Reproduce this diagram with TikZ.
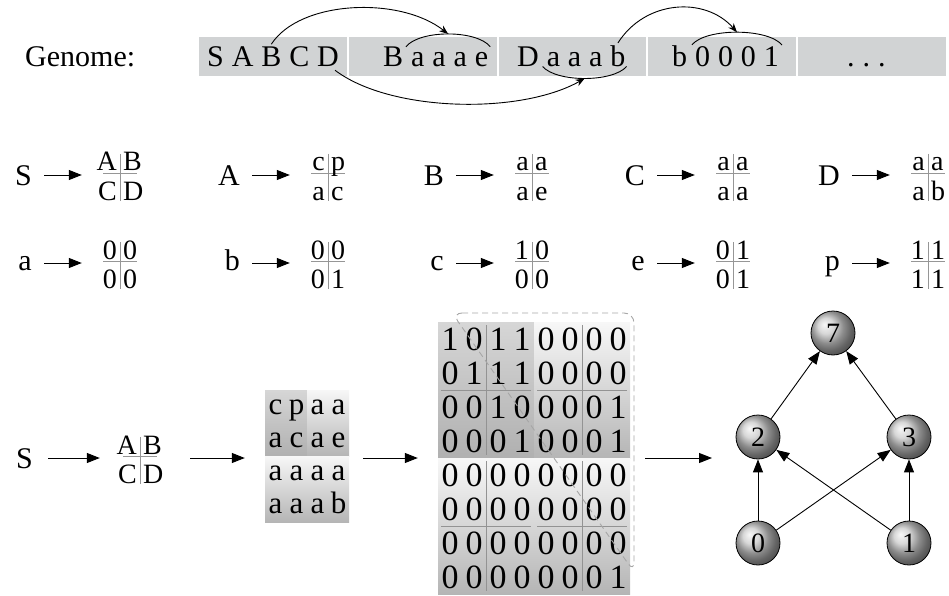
\documentclass[tikz,border=0pt]{standalone}
\usepackage{fontspec}
\setmainfont{Liberation Serif}
\usetikzlibrary{arrows.meta}

\definecolor{bargray}{RGB}{209,211,212}
\definecolor{rulegray}{RGB}{150,150,150}

% one genome segment: characters set one by one, separated by a word space
\newcommand{\gword}[3]{%
  \foreach \ch [count=\i] in {#3} {%
    \ifnum\i=1
      \node[gch, anchor=base west] (#1-1) at (#2,67) {\ch};
    \else
      \pgfmathtruncatemacro\prv{\i-1}%
      \node[gch, anchor=base west] (#1-\i) at ([xshift=7.5pt]#1-\prv.base east) {\ch};
    \fi}}

% 2x2 block with its cross of rules: name, centre x, arrow y, TL, TR, BL, BR
\newcommand{\qgrid}[7]{%
  \node[qbox] (#1) at (#2,#3) {};
  \begin{scope}[shift={(#2,{#3-2})}]
    \draw[qline] (-17,0) -- (17,0);
    \draw[qline] (0,-19) -- (0,28);
    \node[qch, anchor=base east] (#1-tl) at (-3,-2) {#4};
    \node[qch, anchor=base west] (#1-tr) at (3,-2) {#5};
    \node[qch, anchor=base east] (#1-bl) at (-3,27) {#6};
    \node[qch, anchor=base west] (#1-br) at (3,27) {#7};
  \end{scope}}

% one production rule: name, block x, arrow y, letter style, letter, TL, TR, BL, BR
\newcommand{\rulegroup}[9]{%
  \node[#4, anchor=east] (#1-l) at ({#2-88},#3) {#5};
  \qgrid{#1-q}{#2}{#3}{#6}{#7}{#8}{#9}
  \draw[rarrow] (#1-l) -- (#1-q);}

\begin{document}
\begin{tikzpicture}[x=1pt, y=-1pt,
  gch/.style={inner sep=0pt, font=\fontsize{30}{36}\selectfont},
  garc/.style={line width=0.9pt, -{Stealth[length=9pt,width=7pt]}},
  hat/.style={line width=0.9pt},
  capl/.style={inner sep=0pt, font=\fontsize{30}{36}\selectfont, text height=20pt, text depth=0pt},
  lowl/.style={inner sep=0pt, font=\fontsize{30}{36}\selectfont, text height=14pt, text depth=0pt},
  qbox/.style={inner sep=0pt, minimum width=44pt, minimum height=50pt},
  qch/.style={inner sep=0pt, font=\fontsize{28}{32}\selectfont},
  qline/.style={draw=rulegray, line width=0.9pt},
  barrow/.style={line width=1pt, -{Triangle[length=13pt,width=10pt]}},
  rarrow/.style={barrow, shorten <=12pt, shorten >=16pt},
  blockshade/.style={top color=gray!6, bottom color=gray!58},
  cornershade/.style={top color=gray!32, bottom color=gray!62},
  subline/.style={draw=gray!85, line width=0.8pt},
  mdig/.style={inner sep=0pt, font=\fontsize{34}{38}\selectfont},
  mlet/.style={inner sep=0pt, font=\fontsize{31}{36}\selectfont},
  dashtri/.style={draw=gray!70, dash pattern=on 6pt off 4pt, line width=0.9pt, rounded corners=10pt},
  gnode/.style={circle, draw=black, line width=0.8pt, ball color=gray!42, minimum size=44pt, inner sep=0pt, font=\fontsize{28}{30}\selectfont},
  garrow/.style={line width=0.9pt, -{Triangle[length=13pt,width=10pt]}}
]
\useasboundingbox (0,0) rectangle (949,596);

% ---------------- genome ----------------
\node[gch, anchor=base west] (glabel) at (25,67) {Genome:};
\fill[bargray] (199,37) rectangle (347,76);
\fill[bargray] (349,37) rectangle (497,76);
\fill[bargray] (499,37) rectangle (646,76);
\fill[bargray] (648,37) rectangle (796,76);
\fill[bargray] (798,37) rectangle (946,76);

\gword{g1}{207}{S,A,B,C,D}
\gword{g2}{383}{B,a,a,a,e}
\gword{g3}{517}{D,a,a,a,b}
\gword{g4}{672}{b,0,0,0,1}
\gword{g5}{847}{.,.,.}

\draw[hat] ([xshift=-5pt,yshift=6pt]g2-2.north west) .. controls +(14,-17) and +(-14,-17) ..
  ([xshift=2pt,yshift=6pt]g2-5.north east) coordinate[pos=0.5] (hat1);
\draw[hat] ([xshift=-4pt,yshift=1pt]g3-2.south west) .. controls +(14,16) and +(-14,16) ..
  ([xshift=1pt,yshift=1pt]g3-5.south east) coordinate[pos=0.5] (hat2);
\draw[hat] ([xshift=-3pt,yshift=2pt]g4-2.north west) .. controls +(14,-17) and +(-14,-17) ..
  ([xshift=3pt,yshift=2pt]g4-5.north east) coordinate[pos=0.5] (hat3);

\draw[garc] ([yshift=3pt]g1-3.north) .. controls (300,0) and (400,-4) .. (hat1);
\draw[garc] ([xshift=-4pt,yshift=-3pt]g1-5.south east) .. controls (390,112) and (520,115) .. (hat2);
\draw[garc] ([yshift=3pt]g3-5.north) .. controls (645,0) and (705,-4) .. (hat3);

% ---------------- production rules ----------------
\rulegroup{rS}{120}{175}{capl}{S}{A}{B}{C}{D}
\rulegroup{rA}{328}{175}{capl}{A}{c}{p}{a}{c}
\rulegroup{rB}{532}{175}{capl}{B}{a}{a}{a}{e}
\rulegroup{rC}{733}{175}{capl}{C}{a}{a}{a}{a}
\rulegroup{rD}{928}{175}{capl}{D}{a}{a}{a}{b}

\rulegroup{ra}{120}{263}{lowl}{a}{0}{0}{0}{0}
\rulegroup{rb}{328}{263}{lowl}{b}{0}{0}{0}{1}
\rulegroup{rc}{532}{263}{lowl}{c}{1}{0}{0}{0}
\rulegroup{re}{733}{263}{lowl}{e}{0}{1}{0}{1}
\rulegroup{rp}{928}{263}{lowl}{p}{1}{1}{1}{1}

% ---------------- development ----------------
\node[capl, anchor=east] (bS) at (33,458) {S};
\qgrid{bq}{140}{458}{A}{B}{C}{D}

% letter matrix
\foreach \bx/\by/\sty in {0/0/cornershade,1/0/blockshade,0/1/blockshade,1/1/blockshade}
  \shade[\sty] ({265+42*\bx},{390+66*\by}) rectangle ++(42,66);
\node[inner sep=0pt, minimum width=84pt, minimum height=132pt] (lm) at (307,458) {};
\foreach \r/\row in {0/{c,p,a,a},1/{a,c,a,e},2/{a,a,a,a},3/{a,a,a,b}}
  \foreach \ch [count=\c from 0] in \row
    \node[mlet, anchor=base] (l-\r-\c) at ({265+21*\c+10.5},{390+33*\r+24}) {\ch};

% bit matrix
\foreach \bx/\by/\sty in {0/0/cornershade,1/0/blockshade,0/1/blockshade,1/1/blockshade} {
  \shade[\sty] ({438+96*\bx},{322+136*\by}) rectangle ++(96,136);
  \draw[subline] ({438+96*\bx+48},{322+136*\by+3}) -- ++(0,130);
  \draw[subline] ({438+96*\bx+3},{322+136*\by+68}) -- ++(90,0);
}
\node[inner sep=0pt, minimum width=192pt, minimum height=272pt] (bm) at (534,458) {};
\foreach \r/\row in {0/{1,0,1,1,0,0,0,0},1/{0,1,1,1,0,0,0,0},2/{0,0,1,0,0,0,0,1},3/{0,0,0,1,0,0,0,1},
                     4/{0,0,0,0,0,0,0,0},5/{0,0,0,0,0,0,0,0},6/{0,0,0,0,0,0,0,0},7/{0,0,0,0,0,0,0,1}}
  \foreach \d [count=\c from 0] in \row
    \node[mdig] (m-\r-\c) at ({438+24*\c+12},{322+34*\r+17}) {\d};
\draw[dashtri] (452,313) -- (634,313) -- (634,572) -- cycle;

% network
\node[gnode] (n7) at (833,333) {7};
\node[gnode] (n2) at (758,437) {2};
\node[gnode] (n3) at (909,437) {3};
\node[gnode] (n0) at (758,543) {0};
\node[gnode] (n1) at (909,543) {1};
\coordinate (gin) at (712,458);

\draw[garrow] (n2) -- (n7);
\draw[garrow] (n3) -- (n7);
\draw[garrow] (n0) -- (n2);
\draw[garrow] (n1) -- (n3);
\draw[garrow] (n0) -- (n3);
\draw[garrow] (n1) -- (n2);

% pipeline arrows
\draw[barrow, shorten <=15pt, shorten >=18pt] (bS) -- (bq);
\draw[barrow, shorten <=28pt, shorten >=20pt] (bq) -- (lm);
\draw[barrow, shorten <=14pt, shorten >=20pt] (lm) -- (bm);
\draw[barrow, shorten <=15pt] (bm) -- (gin);
\end{tikzpicture}
\end{document}
